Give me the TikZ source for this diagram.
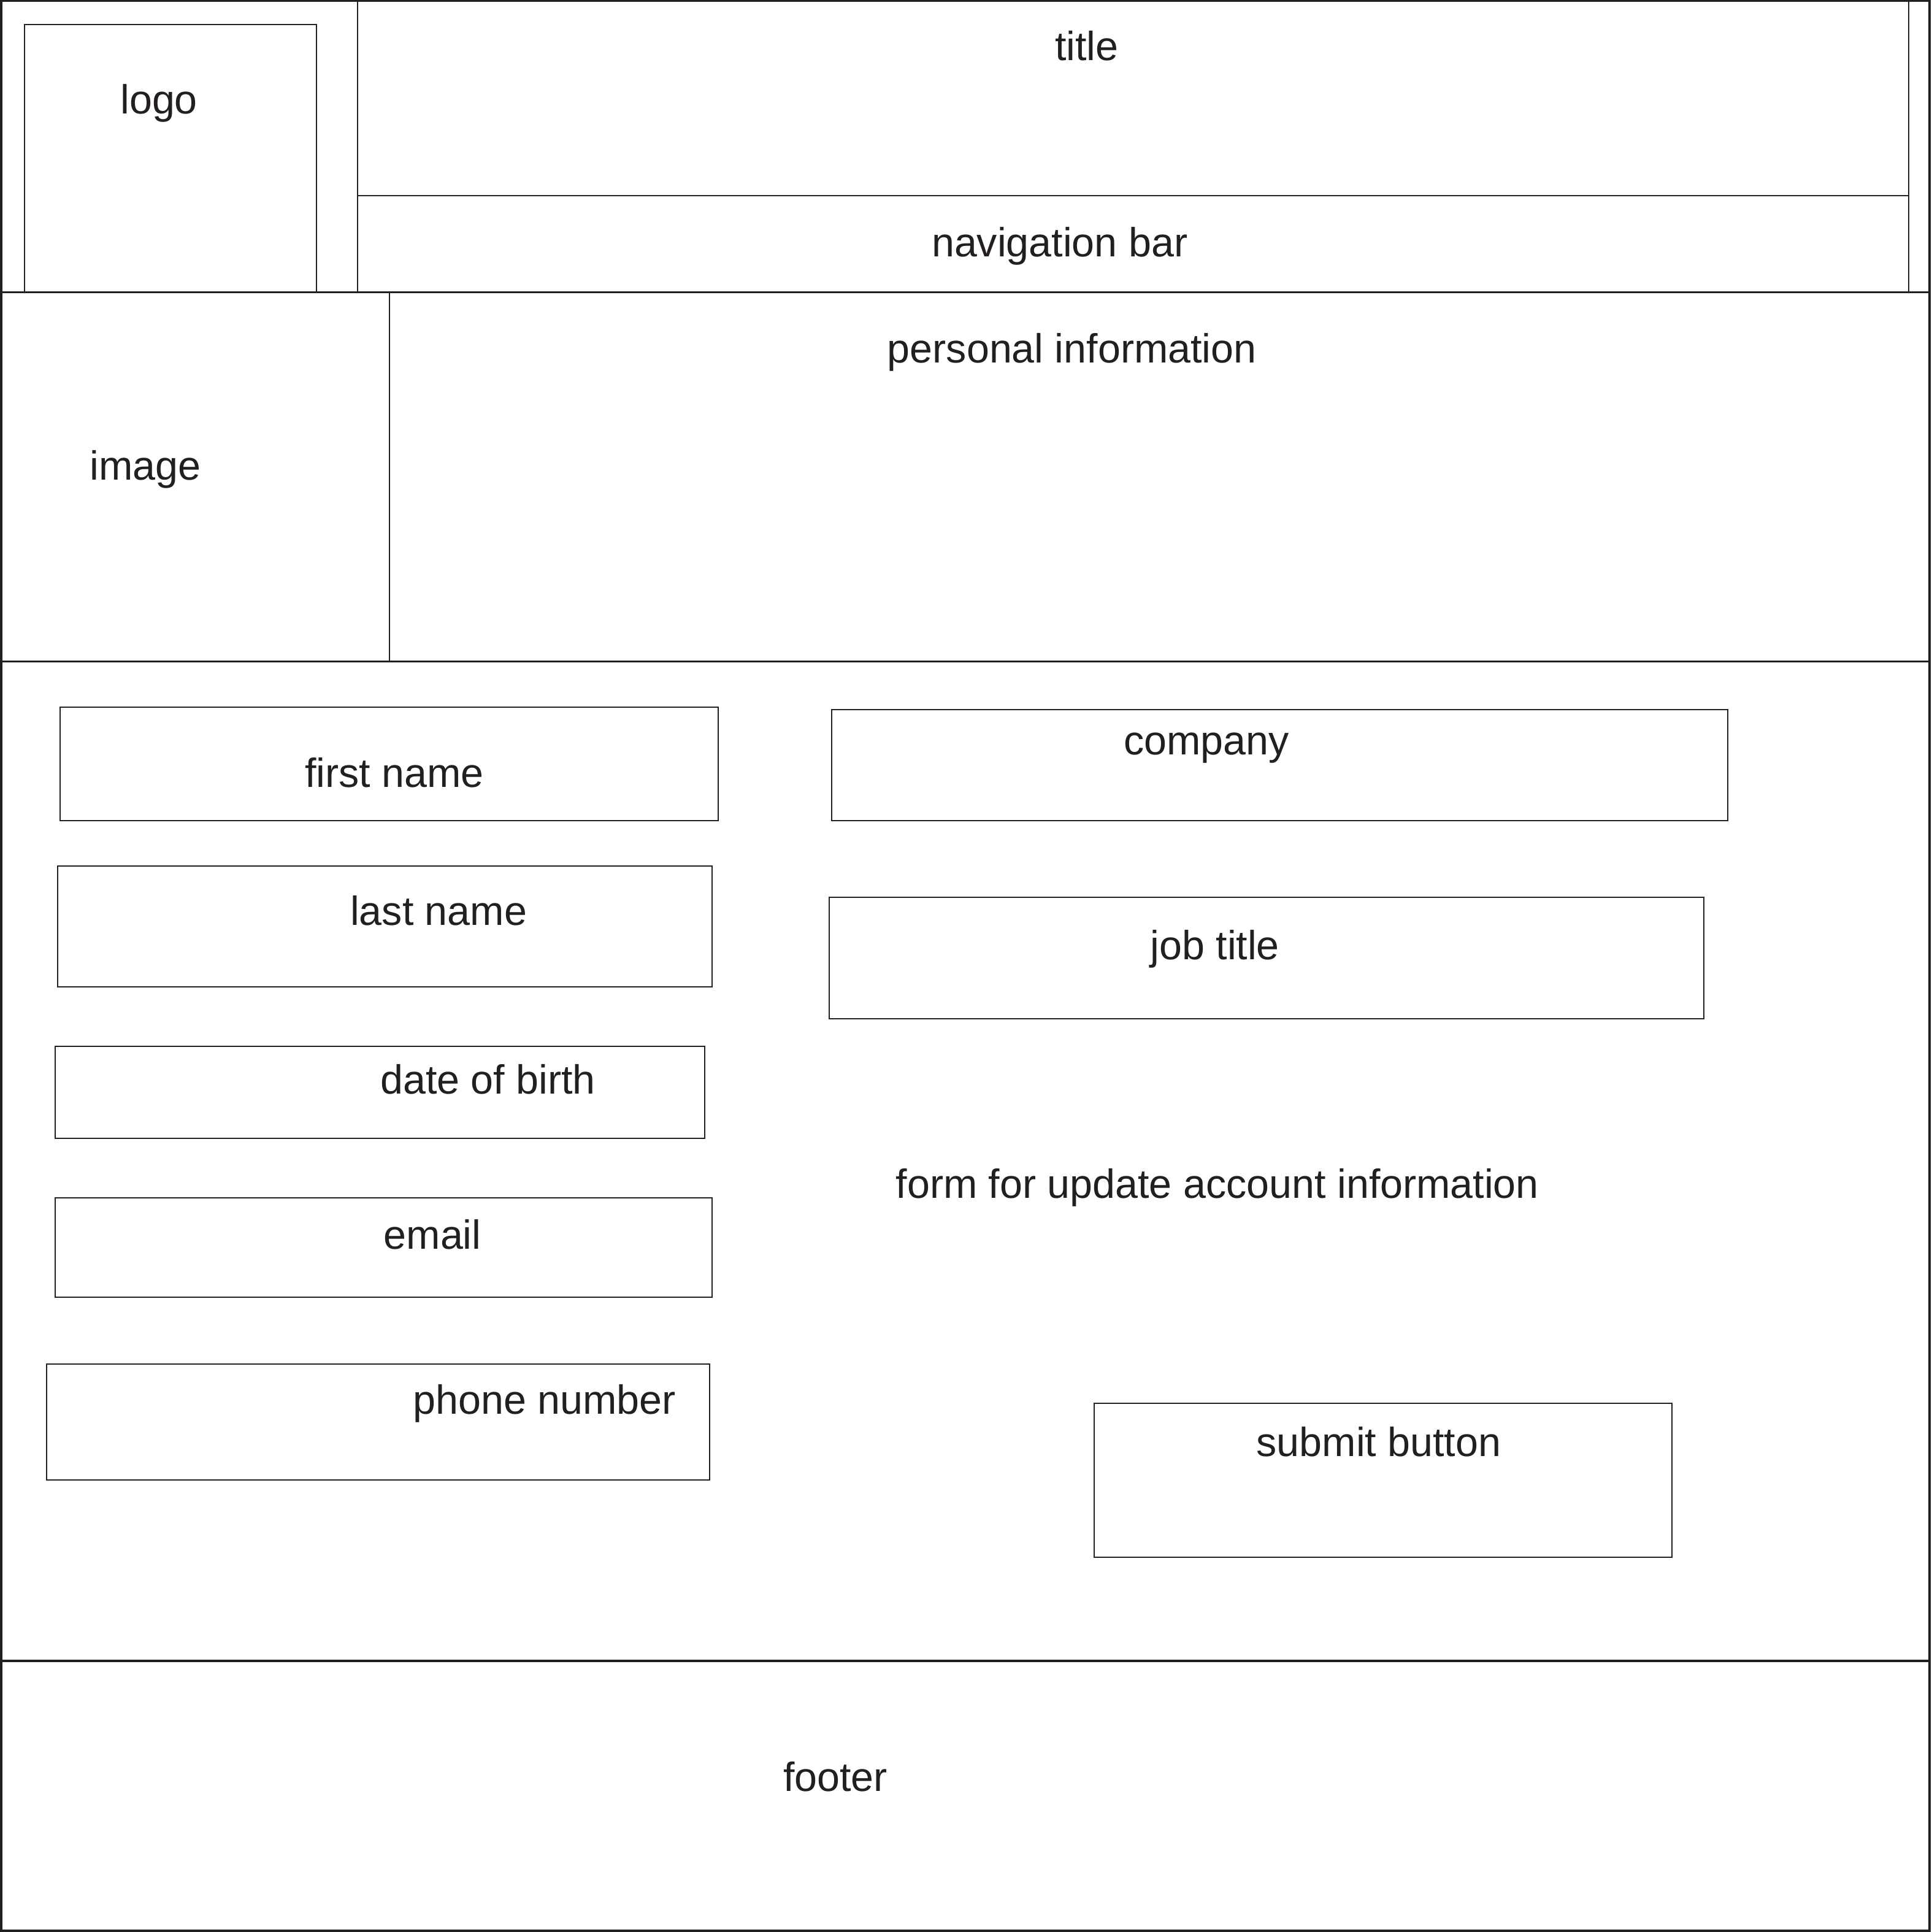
\documentclass[tikz,border=0pt]{standalone}
\usepackage{fontspec}
\setmainfont{Liberation Sans}
\usepackage{tikz}
\usetikzlibrary{positioning}
\definecolor{ink}{HTML}{231F20}
\tikzset{frame line/.style={draw=ink, line width=0.45pt},
  box line/.style={draw=ink, line width=0.28pt},
  label node/.style={inner sep=0pt, text=ink, font=\fontsize{9.4}{11}\selectfont},}

\begin{document}
\begin{tikzpicture}[x=0.01cm, y=-0.01cm]
        \useasboundingbox (0,0) rectangle (1568,1568);
        % Page frame
        \draw[frame line] (1,0.5) rectangle (1566,1567);
        \draw[frame line] (1,237) -- (1566,237);
        \draw[frame line] (1,537) -- (1566,537);
        \draw[frame line] (1,1348) -- (1566,1348);
        % Header
        \draw[box line] (20,20) rectangle (257,237);
        \draw[box line] (290,0.5) -- (290,237);
        \draw[box line] (1549,0.5) -- (1549,237);
        \draw[box line] (290,159) -- (1549,159);
        \draw[box line] (316,237) -- (316,537);
        % Form fields
        \draw[box line] (49,574) rectangle (583,666);
        \draw[box line] (47,703) rectangle (578,801);
        \draw[box line] (45,849) rectangle (572,924);
        \draw[box line] (45,972) rectangle (578,1053);
        \draw[box line] (38,1107) rectangle (576,1201);
        \draw[box line] (675,576) rectangle (1402,666);
        \draw[box line] (673,728) rectangle (1383,827);
        \draw[box line] (888,1139) rectangle (1357,1264);
        % Labels
        \node[label node] (logo) at (129,84) {logo};
        \node[label node] (title) at (882,37) {title};
        \node[label node] (nav) at (860,200) {navigation bar};
        \node[label node] (image) at (118,381) {image};
        \node[label node] (info) at (870,286) {personal information};
        \node[label node] (first) at (320,627) {first name};
        \node[label node] (last) at (356,739) {last name};
        \node[label node] (birth) at (396,876) {date of birth};
        \node[label node] (email) at (351,1002) {email};
        \node[label node] (phone) at (442,1139) {phone number};
        \node[label node] (company) at (979,607) {company};
        \node[label node] (job) at (986,770) {job title};
        \node[label node] (form) at (988,964) {form for update account information};
        \node[label node] (submit) at (1119,1170) {submit button};
        \node[label node] (footer) at (678,1442) {footer};
    \end{tikzpicture}
\end{document}
